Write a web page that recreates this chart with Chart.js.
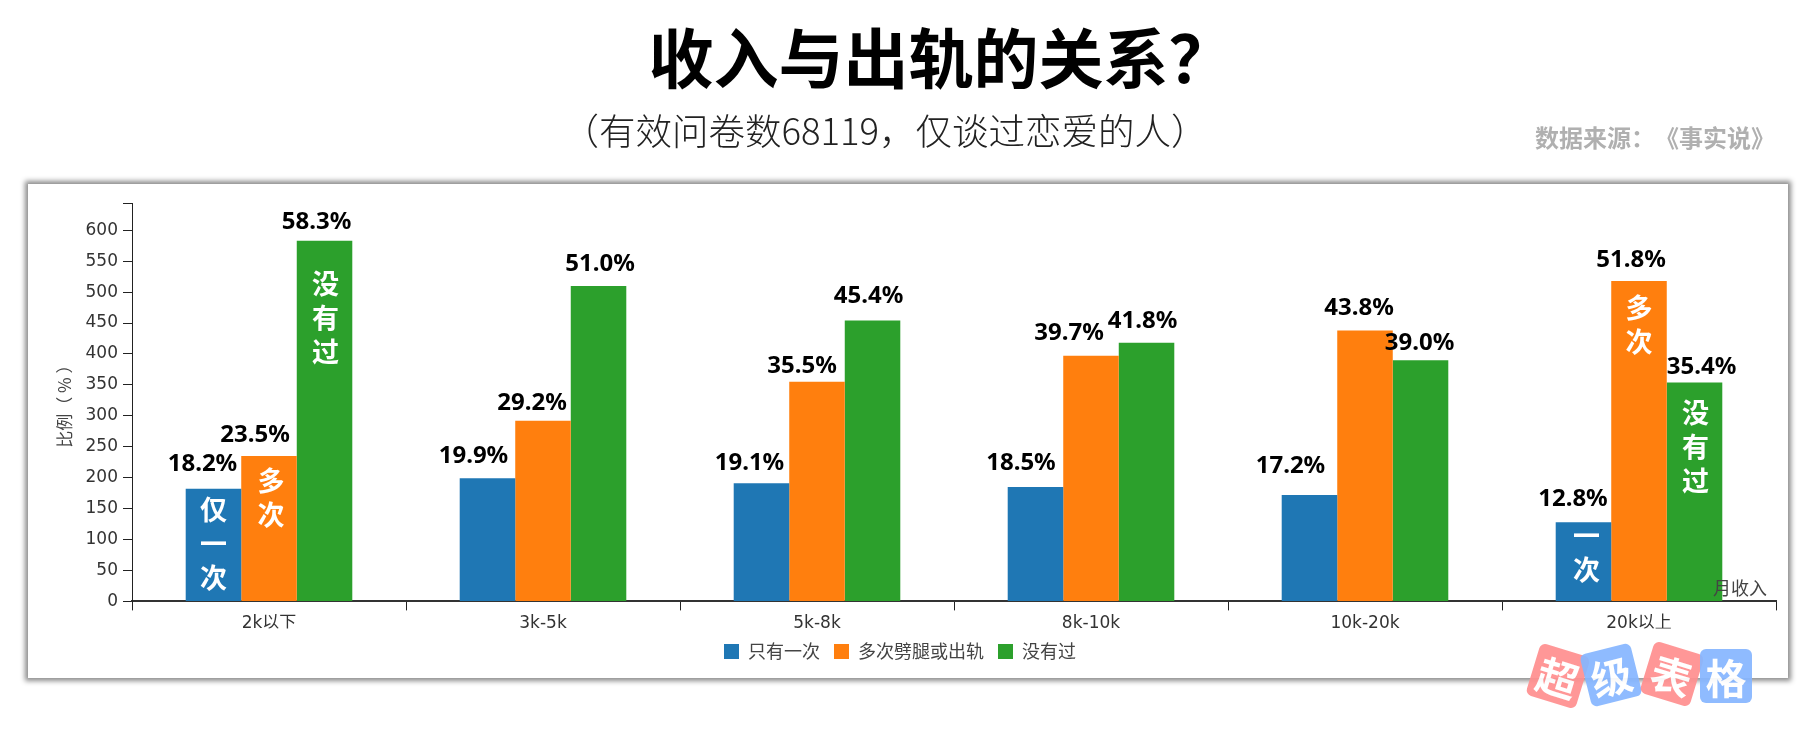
<!DOCTYPE html>
<html><head><meta charset="utf-8">
<script src="https://cdn.jsdelivr.net/npm/chart.js@4"></script>
<style>
html,body{margin:0;padding:0;background:#fff;width:1808px;height:735px;overflow:hidden}
#panel{position:absolute;left:28px;top:184px;width:1760px;height:494px;background:#fff;box-shadow:0 0 5px 3px #8c8c8c}
#c{position:absolute;left:0;top:0;text-spacing-trim:space-all;font-kerning:none}
.tile{position:absolute;width:52px;height:54px;border-radius:6px;color:#fff;font:bold 41px/54px "Noto Sans CJK SC",sans-serif;text-align:center;opacity:.92}
</style></head><body>
<div id="panel"></div>
<canvas id="c" width="1808" height="735" style="width:1808px;height:735px"></canvas>
<div class="tile" style="left:1532px;top:649px;background:#ff8f8f;transform:rotate(17deg)">超</div>
<div class="tile" style="left:1585px;top:648px;background:#86b6ff;transform:rotate(-14deg)">级</div>
<div class="tile" style="left:1646px;top:647px;background:#ff8f8f;transform:rotate(17deg)">表</div>
<div class="tile" style="left:1700px;top:649px;background:#86b6ff">格</div>
<script>
const categories = ['2k以下','3k-5k','5k-8k','8k-10k','10k-20k','20k以上'];
const seriesNames = ['只有一次','多次劈腿或出轨','没有过'];
const onceValues = [182,199,191,185,172,128];
const multiValues = [235,292,355,397,438,518];
const neverValues = [583,510,454,418,390,354];
const seriesColors = ['#1f77b4','#ff7f0e','#2ca02c'];
const labelDx = [[-11,-14,-12,-14.5,-19,-10.5],[-14,-11,-15,-22,-6,-8],[-8,1.5,-4,-4,-1,7]];
const labelDy = [[-18,-15,-13,-17,-22,-16],[-14,-11,-9,-16,-15,-14],[-12,-15,-18,-15,-10,-8]];
const innerLabels = [
 {s:0,i:0,text:'仅一次',dx:0,dy:21},{s:1,i:0,text:'多次',dx:2,dy:25},{s:2,i:0,text:'没有过',dx:1,dy:43},
 {s:0,i:5,text:'一次',dx:3,dy:14},{s:1,i:5,text:'多次',dx:0,dy:27},{s:2,i:5,text:'没有过',dx:1,dy:30}
];
const tickFont = {family:'"DejaVu Sans","Noto Sans CJK SC"',size:17};
const annotate = {
 id:'annotate',
 afterDatasetsDraw(chart){
  const ctx = chart.ctx; ctx.save();
  ctx.fontKerning='none';
  ctx.textBaseline='alphabetic'; ctx.textAlign='center'; ctx.fillStyle='#000';
  ctx.font='bold 24px "Noto Sans"';
  chart.data.datasets.forEach((ds,s)=>{
   chart.getDatasetMeta(s).data.forEach((bar,i)=>{
    ctx.fillText((ds.data[i]/10).toFixed(1)+'%',bar.x+labelDx[s][i],bar.y+labelDy[s][i]);
   });
  });
  ctx.textBaseline='middle'; ctx.fillStyle='#fff'; ctx.font='bold 27px "Noto Sans CJK SC"';
  innerLabels.forEach(l=>{
   const bar = chart.getDatasetMeta(l.s).data[l.i];
   [...l.text].forEach((ch,k)=>ctx.fillText(ch,bar.x+l.dx,bar.y+l.dy+k*34));
  });
  ctx.fillStyle='#444'; ctx.font='18px "Noto Sans CJK SC"';
  ctx.fillText('月收入',1740,588);
  ctx.fillStyle='#000'; ctx.font='bold 65px "Noto Sans CJK SC"';
  ctx.fillText('收入与出轨的关系？',941,58);
  ctx.fillStyle='#222'; ctx.font='300 36.5px "Noto Sans CJK SC"';
  ctx.fillText('（有效问卷数68119，仅谈过恋爱的人）',885,131);
  ctx.fillStyle='#b0b0b0'; ctx.font='bold 24px "Noto Sans CJK SC"';
  ctx.fillText('数据来源：《事实说》',1655,138);
  ctx.restore();
 }
};
new Chart(document.getElementById('c'),{
 type:'bar',
 data:{labels:categories,datasets:[
  {label:seriesNames[0],data:onceValues,backgroundColor:seriesColors[0]},
  {label:seriesNames[1],data:multiValues,backgroundColor:seriesColors[1]},
  {label:seriesNames[2],data:neverValues,backgroundColor:seriesColors[2]}
 ]},
 plugins:[annotate],
 options:{
  responsive:false,animation:false,devicePixelRatio:1,
  layout:{padding:{left:24,right:32,top:203,bottom:64.6}},
  datasets:{bar:{categoryPercentage:0.608,barPercentage:1}},
  plugins:{
   tooltip:{enabled:false},
   legend:{position:'bottom',labels:{boxWidth:15,boxHeight:15,padding:14,color:'#444',font:{family:'"Noto Sans CJK SC"',size:18}}}
  },
  scales:{
   x:{
    grid:{drawOnChartArea:false,drawTicks:true,tickLength:9,color:'#222',offset:true},
    border:{color:'#333',width:2},
    ticks:{color:'#333',font:tickFont,padding:3,maxRotation:0,autoSkip:false},
    afterFit(s){s.height=27;}
   },
   y:{
    min:0,max:644,
    grid:{drawOnChartArea:false,drawTicks:true,tickLength:9,color:'#222'},
    border:{color:'#222',width:1},
    ticks:{stepSize:50,color:'#333',font:tickFont,padding:5,autoSkip:false,
     callback:v=>v%50===0?v:''},
    title:{display:true,text:'比例（ % ）',color:'#444',font:{family:'"Noto Sans CJK SC"',size:17},padding:{top:30,bottom:0}},
    afterFit(s){s.width=108;}
   }
  }
 }
});
</script></body></html>
